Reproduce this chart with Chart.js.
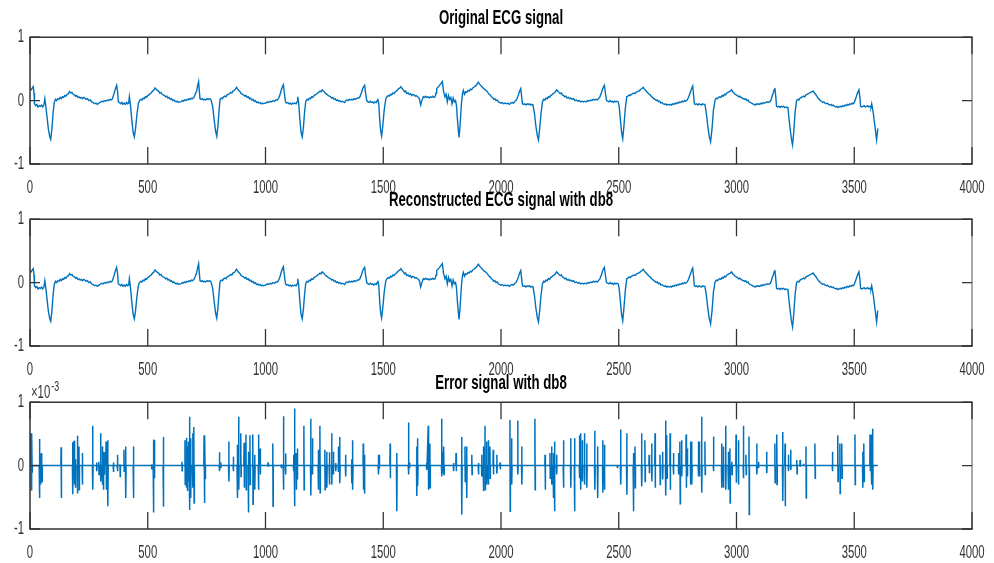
<!DOCTYPE html>
<html>
<head>
<meta charset="utf-8">
<script src="https://cdn.jsdelivr.net/npm/chart.js@4.4.1/dist/chart.umd.min.js"></script>
<style>
  html, body { margin:0; padding:0; background:#fff; width:994px; height:563px; overflow:hidden; }
  canvas { position:absolute; left:0; }
</style>
</head>
<body>
<canvas id="c1" width="994" height="200" style="top:0px"></canvas>
<canvas id="c2" width="994" height="200" style="top:182px"></canvas>
<canvas id="c3" width="994" height="200" style="top:365px"></canvas>
<script>
// ---------------- DATA ----------------
const panelTitles = ['Original ECG signal', 'Reconstructed ECG signal with db8', 'Error signal with db8'];
const xTickLabels = ['0','500','1000','1500','2000','2500','3000','3500','4000'];
const yTickLabels = ['-1','0','1'];
const errorExponentLabel = ['\u00d710', '-3'];

// ECG samples: [sample index, amplitude]
const ecgSamples = [
[0,.19],[5,.17],[10,.20],[14,.22],[17,.12],[19,-.05],[24,-.08],[29,-.06],[34,-.10],[39,-.08],[44,-.09],[49,-.07],[54,-.10],[59,-.07],[63,.03],[66,-.05],[72,-.25],[78,-.45],[84,-.57],[88,-.61],[93,-.45],[98,-.20],[103,-.03],[108,.02],[113,.00],[118,.03],[123,.02],[128,.05],[133,.03],[138,.06],[143,.05],[148,.08],[153,.07],[158,.10],[163,.11],[168,.14],[173,.12],[178,.13],[183,.10],[188,.09],[193,.07],[198,.08],[203,.05],[208,.06],[213,.04],[218,.05],[223,.03],[228,.05],[233,.04],[238,.02],[244,.03],[250,.00],[256,.01],[262,-.02],[268,-.03],[274,-.05],[280,-.04],[286,-.06],[292,-.04],[298,-.03],[304,-.01],[310,-.02],[316,.00],[322,-.01],[328,.01],[334,.00],[340,.02],[346,.01],[350,.03],[356,.10],[362,.18],[368,.24],[372,.14],[375,-.02],[380,-.03],[385,-.05],[390,-.03],[395,-.06],[400,-.04],[405,-.06],[410,-.03],[415,-.05],[419,-.04],[422,.06],[426,-.05],[432,-.30],[438,-.50],[443,-.57],[448,-.45],[454,-.22],[460,-.05],[465,.00],[470,.02],[475,.01],[480,.04],[485,.03],[490,.06],[495,.05],[500,.08],[505,.09],[510,.11],[515,.12],[520,.15],[525,.16],[531,.20],[536,.18],[541,.16],[546,.15],[551,.12],[556,.13],[561,.10],[566,.09],[571,.08],[576,.06],[581,.07],[586,.04],[591,.05],[596,.02],[601,.03],[606,.00],[611,.01],[616,-.01],[621,-.02],[626,-.01],[631,-.03],[636,-.02],[641,-.02],[646,.00],[651,-.01],[656,.01],[661,.00],[666,.02],[671,.01],[676,.03],[681,.02],[686,.04],[691,.03],[696,.05],[702,.10],[708,.16],[712,.24],[716,.30],[719,.15],[722,.03],[727,.02],[732,.03],[737,.01],[742,.02],[747,.01],[752,.03],[757,.02],[762,.03],[767,.02],[771,-.02],[776,-.10],[782,-.30],[788,-.48],[793,-.56],[798,-.40],[803,-.15],[807,.02],[812,.04],[817,.03],[822,.06],[827,.07],[832,.06],[837,.09],[842,.10],[847,.11],[852,.13],[857,.12],[862,.15],[867,.16],[872,.18],[877,.21],[882,.18],[887,.16],[892,.14],[897,.11],[902,.10],[907,.09],[912,.07],[917,.08],[922,.05],[927,.06],[932,.03],[937,.04],[942,.01],[947,.02],[952,-.01],[957,.00],[962,-.03],[967,-.02],[972,-.04],[977,-.03],[982,-.05],[987,-.04],[992,-.05],[997,-.04],[1002,-.04],[1008,-.02],[1014,-.03],[1020,-.01],[1026,-.02],[1032,.00],[1038,-.01],[1044,.01],[1050,.01],[1056,.04],[1062,.10],[1068,.18],[1072,.22],[1076,.25],[1080,.12],[1085,-.02],[1090,-.04],[1095,-.03],[1100,-.05],[1105,-.04],[1110,-.06],[1115,-.04],[1120,-.05],[1125,-.04],[1130,-.05],[1134,-.02],[1137,.06],[1141,-.05],[1146,-.30],[1151,-.50],[1156,-.57],[1161,-.42],[1166,-.18],[1171,-.01],[1176,.02],[1181,.01],[1186,.04],[1191,.03],[1196,.06],[1201,.05],[1206,.08],[1211,.09],[1216,.10],[1221,.12],[1226,.13],[1231,.15],[1236,.14],[1241,.17],[1246,.15],[1251,.13],[1256,.11],[1261,.10],[1266,.08],[1271,.07],[1276,.06],[1281,.04],[1286,.05],[1291,.02],[1296,.03],[1301,.00],[1306,.01],[1311,-.01],[1316,.00],[1321,-.02],[1326,-.01],[1331,-.02],[1336,-.03],[1341,.00],[1346,.01],[1351,.00],[1356,.02],[1361,.01],[1366,.02],[1371,.01],[1376,.03],[1381,.02],[1386,.03],[1391,.04],[1396,.04],[1401,.06],[1407,.12],[1413,.19],[1417,.22],[1421,.24],[1425,.12],[1430,.00],[1435,-.02],[1440,-.03],[1445,-.01],[1450,-.03],[1455,-.02],[1460,-.04],[1465,-.02],[1470,-.03],[1474,.00],[1477,.03],[1481,-.05],[1485,-.30],[1489,-.48],[1493,-.56],[1498,-.40],[1504,-.15],[1511,.03],[1516,.06],[1521,.08],[1526,.07],[1531,.10],[1536,.09],[1541,.12],[1546,.11],[1551,.14],[1556,.15],[1561,.17],[1566,.19],[1571,.20],[1575,.22],[1580,.19],[1585,.17],[1590,.14],[1595,.15],[1600,.11],[1605,.12],[1610,.10],[1615,.11],[1620,.08],[1625,.10],[1630,.09],[1635,.07],[1640,.08],[1645,.06],[1650,.05],[1654,.02],[1659,-.07],[1664,.00],[1670,.06],[1675,.05],[1680,.07],[1685,.05],[1690,.06],[1695,.04],[1700,.06],[1705,.05],[1710,.07],[1715,.05],[1720,.06],[1724,.12],[1727,.19],[1735,.22],[1743,.26],[1751,.30],[1756,.15],[1762,.06],[1767,.10],[1772,-.02],[1777,.08],[1782,.02],[1787,.05],[1792,-.05],[1797,.04],[1802,-.02],[1807,.00],[1811,-.08],[1815,-.30],[1819,-.48],[1822,-.58],[1826,-.40],[1832,-.05],[1836,.10],[1840,.16],[1845,.10],[1850,.14],[1855,.13],[1860,.16],[1865,.15],[1870,.18],[1875,.17],[1880,.20],[1885,.21],[1890,.23],[1895,.24],[1900,.27],[1904,.29],[1909,.26],[1914,.24],[1919,.22],[1924,.20],[1929,.18],[1934,.17],[1939,.15],[1944,.13],[1949,.10],[1954,.09],[1959,.06],[1964,.05],[1969,.02],[1974,.03],[1979,.00],[1984,.01],[1989,-.02],[1994,-.03],[1999,-.04],[2005,-.03],[2011,-.05],[2017,-.04],[2023,-.05],[2029,-.04],[2035,-.06],[2041,-.04],[2047,-.03],[2053,-.04],[2059,-.01],[2064,.00],[2069,.04],[2074,.09],[2079,.15],[2084,.19],[2088,.05],[2091,-.05],[2096,-.06],[2101,-.05],[2106,-.07],[2111,-.05],[2116,-.06],[2121,-.05],[2126,-.07],[2131,-.06],[2136,-.07],[2142,-.20],[2148,-.40],[2154,-.55],[2159,-.62],[2164,-.45],[2170,-.20],[2176,-.02],[2181,.02],[2186,.01],[2191,.04],[2196,.03],[2201,.06],[2206,.05],[2211,.08],[2216,.09],[2221,.11],[2226,.12],[2231,.14],[2236,.17],[2241,.15],[2246,.13],[2251,.11],[2256,.12],[2261,.09],[2266,.08],[2271,.06],[2276,.07],[2281,.04],[2286,.05],[2291,.03],[2296,.04],[2302,.02],[2308,.03],[2314,.00],[2320,.01],[2326,-.01],[2332,.00],[2338,-.02],[2344,-.01],[2350,-.02],[2356,-.01],[2362,-.02],[2368,.00],[2374,-.01],[2380,.01],[2386,.00],[2392,.02],[2398,.01],[2404,.02],[2410,.01],[2414,.03],[2420,.06],[2426,.12],[2432,.19],[2436,.22],[2439,.24],[2444,.10],[2448,.00],[2453,-.01],[2458,-.02],[2463,.00],[2468,-.02],[2473,-.01],[2478,-.03],[2483,-.01],[2488,-.02],[2493,-.01],[2498,-.02],[2502,-.10],[2507,-.30],[2512,-.50],[2517,-.60],[2522,-.40],[2528,-.12],[2534,.06],[2539,.07],[2544,.09],[2549,.08],[2554,.10],[2559,.11],[2564,.12],[2569,.11],[2574,.13],[2579,.14],[2584,.15],[2589,.16],[2594,.18],[2599,.19],[2604,.21],[2609,.18],[2614,.16],[2619,.14],[2624,.12],[2629,.10],[2634,.09],[2639,.06],[2644,.05],[2649,.03],[2654,.02],[2659,.00],[2664,.01],[2669,-.02],[2674,-.01],[2679,-.04],[2684,-.03],[2689,-.05],[2694,-.06],[2699,-.05],[2704,-.07],[2709,-.06],[2714,-.07],[2719,-.06],[2724,-.07],[2729,-.05],[2734,-.06],[2739,-.04],[2744,-.05],[2749,-.03],[2754,-.04],[2759,-.02],[2764,-.03],[2769,-.01],[2774,-.02],[2779,.00],[2784,-.01],[2789,.00],[2795,.04],[2801,.10],[2806,.15],[2810,.20],[2814,.23],[2818,.08],[2821,-.05],[2826,-.06],[2831,-.05],[2836,-.07],[2841,-.05],[2846,-.06],[2851,-.07],[2856,-.05],[2861,-.06],[2866,-.06],[2872,-.20],[2878,-.40],[2884,-.56],[2890,-.65],[2896,-.45],[2902,-.15],[2909,.01],[2914,.04],[2919,.03],[2924,.05],[2929,.06],[2934,.05],[2939,.08],[2944,.07],[2949,.10],[2954,.09],[2959,.12],[2964,.13],[2969,.14],[2974,.15],[2979,.17],[2984,.14],[2989,.12],[2994,.10],[2999,.09],[3004,.08],[3009,.06],[3014,.07],[3019,.05],[3024,.04],[3029,.03],[3034,.02],[3039,.03],[3044,.00],[3049,.01],[3054,-.02],[3059,-.03],[3064,-.04],[3069,-.05],[3074,-.06],[3079,-.07],[3084,-.05],[3089,-.06],[3094,-.05],[3099,-.06],[3104,-.04],[3109,-.05],[3114,-.03],[3119,-.04],[3124,-.03],[3129,-.02],[3134,-.03],[3139,-.02],[3144,-.01],[3148,.03],[3152,.08],[3156,.12],[3160,.17],[3163,.20],[3167,.05],[3170,-.09],[3175,-.10],[3180,-.09],[3185,-.11],[3190,-.09],[3195,-.10],[3200,-.09],[3205,-.11],[3210,-.10],[3215,-.11],[3218,-.10],[3222,-.25],[3228,-.45],[3233,-.60],[3238,-.70],[3243,-.50],[3249,-.18],[3255,.00],[3260,.02],[3265,.01],[3270,.04],[3275,.05],[3280,.06],[3285,.07],[3290,.06],[3295,.09],[3300,.10],[3305,.11],[3310,.12],[3315,.13],[3320,.14],[3326,.15],[3331,.12],[3336,.10],[3341,.07],[3346,.04],[3351,.02],[3356,.00],[3361,-.01],[3366,-.03],[3371,-.02],[3376,-.04],[3381,-.05],[3386,-.04],[3391,-.06],[3396,-.07],[3401,-.06],[3406,-.08],[3411,-.07],[3416,-.09],[3421,-.10],[3426,-.09],[3431,-.11],[3436,-.10],[3441,-.09],[3446,-.10],[3451,-.08],[3456,-.09],[3461,-.07],[3466,-.08],[3471,-.06],[3476,-.07],[3481,-.05],[3486,-.06],[3491,-.04],[3496,-.05],[3500,-.03],[3505,.02],[3510,.08],[3515,.13],[3520,.17],[3524,.05],[3527,-.09],[3532,-.10],[3537,-.09],[3542,-.08],[3547,-.10],[3552,-.09],[3557,-.08],[3562,-.10],[3567,-.09],[3571,-.10],[3574,-.05],[3581,-.20],[3588,-.41],[3595,-.62],[3600,-.44]
];
// Reconstruction with db8 is indistinguishable from the original at this scale
const reconstructedSamples = ecgSamples;

// Error signal (units of 1e-3): [sample index, spike high, spike low]; zero elsewhere
const errorSpikes = [
[4,.51,-.38],[8,.51,-.10],[40,.42,-.51],[45,.19,-.30],[50,.20,-.25],[132,.29,-.51],[181,.37,-.45],[187,.39,-.30],[192,.10,-.35],[201,.47,-.44],[208,.30,-.38],[222,.20,-.30],[266,.63,-.38],[283,.05,-.09],[292,.06,-.14],[300,.51,-.25],[307,.30,-.30],[311,.22,-.38],[315,.21,-.14],[323,.38,-.38],[330,.40,-.64],[354,.05,-.10],[371,.17,-.09],[382,.02,-.17],[399,.25,-.09],[406,.30,-.51],[439,.30,-.51],
[517,.02,-.06],[524,.41,-.74],[528,.40,-.20],[566,.45,-.65],[645,.06,-.08],[658,.40,-.30],[664,.44,-.35],[668,.30,-.40],[672,.38,-.25],[677,.77,-.70],[682,.43,-.51],[691,.51,-.35],[696,.61,-.59],[739,.48,-.59],[743,.48,-.20],[804,.21,-.09],[810,.05,-.04],[844,.38,-.25],[863,.14,-.09],[880,.33,-.51],[886,.77,-.38],[895,.51,-.17],[909,.36,-.35],[917,.49,-.38],[927,.22,-.74],[934,.48,-.30],[946,.49,-.61],[954,.17,-.38],[970,.49,-.38],[977,.27,-.14],
[1011,.05,-.02],[1031,.35,-.64],[1067,.02,-.04],[1076,.78,-.38],[1085,.19,-.14],[1119,.17,-.09],[1123,.90,-.64],[1130,.20,-.38],[1135,.27,-.22],[1163,.63,-.38],[1192,.74,-.47],[1199,.43,-.14],[1224,.25,-.38],[1231,.63,-.43],[1252,.25,-.38],[1260,.22,-.35],[1271,.21,-.30],[1281,.51,-.30],[1288,.22,-.14],[1298,.04,-.09],[1309,.30,-.10],[1315,.45,-.28],[1340,.17,-.17],[1366,.10,-.28],[1370,.40,-.38],[1415,.35,-.38],[1420,.17,-.44],[1479,.17,-.14],[1483,.17,-.05],
[1529,.35,-.20],[1557,.20,-.72],[1607,.68,-.14],[1611,.05,-.04],[1642,.30,-.48],[1646,.43,-.32],[1684,.04,-.07],[1691,.63,-.38],[1698,.35,-.35],[1748,.74,-.17],[1752,.22,-.12],[1757,.30,-.14],[1798,.04,-.09],[1809,.20,-.09],[1833,.45,-.77],[1847,.30,-.25],[1854,.30,-.51],[1876,.17,-.14],[1904,.04,-.14],[1918,.17,-.17],[1925,.30,-.40],[1932,.63,-.38],[1939,.38,-.30],[1946,.40,-.30],[1953,.30,-.20],[1967,.25,-.14],[1982,.17,-.13],[1996,.05,-.06],
[2038,.72,-.72],[2045,.43,-.30],[2071,.71,-.14],[2088,.30,-.30],[2144,.74,-.38],[2187,.17,-.38],[2208,.20,-.20],[2215,.30,-.30],[2222,.20,-.51],[2227,.38,-.72],[2236,.17,-.14],[2265,.40,-.35],[2296,.43,-.35],[2312,.43,-.72],[2333,.48,-.20],[2338,.51,-.38],[2345,.40,-.25],[2354,.51,-.30],[2364,.35,-.35],[2398,.55,-.38],[2410,.30,-.51],[2432,.40,-.43],[2439,.33,-.38],[2494,.01,-.04],
[2508,.57,-.30],[2534,.51,-.46],[2562,.20,-.72],[2569,.30,-.35],[2597,.51,-.33],[2611,.40,-.25],[2629,.17,-.12],[2640,.35,-.25],[2654,.51,-.35],[2675,.17,-.30],[2686,.22,-.22],[2699,.71,-.47],[2704,.48,-.20],[2718,.51,-.38],[2732,.20,-.14],[2754,.20,-.14],[2760,.38,-.60],[2767,.40,-.17],[2786,.49,-.35],[2791,.27,-.17],[2805,.38,-.30],[2810,.38,-.30],[2838,.38,-.17],[2842,.38,-.17],[2852,.77,-.43],[2866,.38,-.14],[2902,.46,-.09],[2937,.35,-.35],[2944,.30,-.35],[2954,.63,-.38],[2965,.22,-.38],[2972,.27,-.59],[2980,.06,-.14],[2998,.49,-.27],
[3008,.40,-.30],[3029,.63,-.20],[3040,.17,-.14],[3053,.46,-.77],[3086,.35,-.14],[3093,.06,-.04],[3128,.22,-.12],[3163,.35,-.27],[3171,.49,-.30],[3196,.53,-.56],[3206,.35,-.64],[3220,.17,-.09],[3230,.25,-.07],[3256,.09,-.13],[3270,.09,-.02],[3284,.03,.00],[3295,.30,-.51],[3333,.35,-.20],[3407,.22,-.09],[3430,.48,-.25],[3439,.35,-.44],[3447,.35,-.20],[3503,.49,-.30],[3536,.22,-.35],[3541,.35,-.25],[3567,.49,-.09],[3573,.49,-.30],[3578,.58,-.38]
];
const errorSignalEnd = 3600;

// ---------------- BUILD ----------------
const LINE_COLOR = '#0072BD';
const AXIS_COLOR = '#333333';
const SQUISH = 0.63;

function condenseText(ctx, k) {
  const orig = ctx.fillText;
  ctx.fillText = function (t, x, y, mw) {
    this.save();
    this.translate(x, y);
    this.scale(k, 1);
    if (mw === undefined || mw === null) orig.call(this, t, 0, 0);
    else orig.call(this, t, 0, 0, mw / k);
    this.restore();
  };
}

const boxPlugin = {
  id: 'matlabBox',
  afterDraw(chart, args, opts) {
    const ctx = chart.ctx;
    const { left, right, top, bottom } = chart.chartArea;
    const xs = chart.scales.x, ys = chart.scales.y;
    ctx.save();
    ctx.lineWidth = 1.5;
    ctx.lineCap = 'butt';
    ctx.strokeStyle = '#8c8c8c';
    ctx.beginPath(); ctx.moveTo(right, top); ctx.lineTo(right, bottom); ctx.stroke();
    ctx.strokeStyle = AXIS_COLOR;
    ctx.beginPath();
    ctx.moveTo(right + 0.75, top); ctx.lineTo(left, top); ctx.lineTo(left, bottom); ctx.lineTo(right + 0.75, bottom);
    ctx.stroke();
    ctx.lineWidth = 1.3;
    ctx.beginPath();
    xs.ticks.forEach(t => {
      const px = xs.getPixelForValue(t.value);
      ctx.moveTo(px, top); ctx.lineTo(px, top + 17);
      ctx.moveTo(px, bottom); ctx.lineTo(px, bottom - 17);
    });
    ys.ticks.forEach(t => {
      const py = ys.getPixelForValue(t.value);
      ctx.moveTo(left, py); ctx.lineTo(left + 10, py);
      ctx.moveTo(right, py); ctx.lineTo(right - 10, py);
    });
    ctx.stroke();
    if (opts && opts.exponent) {
      ctx.fillStyle = AXIS_COLOR;
      ctx.textAlign = 'left';
      ctx.textBaseline = 'alphabetic';
      ctx.font = "18px 'Liberation Sans', Arial, sans-serif";
      ctx.fillText(opts.exponent[0], left + 1, top - 4);
      const w = ctx.measureText(opts.exponent[0]).width * SQUISH;
      ctx.font = "14px 'Liberation Sans', Arial, sans-serif";
      ctx.fillText(opts.exponent[1], left + 2 + w, top - 11);
    }
    ctx.restore();
  }
};

function makePanel(id, title, points, exponent) {
  const canvas = document.getElementById(id);
  const ctx = canvas.getContext('2d');
  condenseText(ctx, SQUISH);
  const tickFont = { family: "'Liberation Sans', Arial, sans-serif", size: 18 };
  return new Chart(ctx, {
    type: 'line',
    data: { datasets: [{ data: points, borderColor: LINE_COLOR, borderWidth: exponent ? 1.5 : 1.4, pointRadius: 0, tension: 0, fill: false }] },
    options: {
      responsive: false, animation: false, devicePixelRatio: 1, parsing: false, normalized: true,
      layout: { padding: { left: 0, right: 22, top: 0, bottom: 0 } },
      plugins: {
        legend: { display: false }, tooltip: { enabled: false },
        title: { display: true, text: title, color: '#000', fullSize: false,
                 font: { family: "'Liberation Sans', Arial, sans-serif", size: 21, weight: 'bold', lineHeight: 1.2 },
                 padding: { top: 6, bottom: 6 } },
        matlabBox: { exponent: exponent || null }
      },
      scales: {
        x: { type: 'linear', min: 0, max: 4000,
             grid: { display: false, drawTicks: false }, border: { display: false },
             ticks: { stepSize: 500, autoSkip: false, maxRotation: 0, padding: 13, color: AXIS_COLOR, font: tickFont,
                      callback: (v, i) => xTickLabels[i] },
             afterFit: s => { s.height = 36; s.paddingLeft = 0; s.paddingRight = 0; } },
        y: { type: 'linear', min: -1, max: 1,
             grid: { display: false, drawTicks: false }, border: { display: false },
             ticks: { stepSize: 1, padding: 6, color: AXIS_COLOR, font: tickFont,
                      callback: (v, i) => yTickLabels[i] },
             afterFit: s => { s.width = 30; s.paddingTop = 0; s.paddingBottom = 0; } }
      }
    },
    plugins: [boxPlugin]
  });
}

const ecgPoints = ecgSamples.map(([x, y]) => ({ x, y }));
const recPoints = reconstructedSamples.map(([x, y]) => ({ x, y }));
const errPoints = [{ x: 0, y: 0 }];
errorSpikes.forEach(([x, hi, lo]) => {
  errPoints.push({ x: x - 1, y: 0 }, { x: x, y: hi }, { x: x + 1, y: lo }, { x: x + 2, y: 0 });
});
errPoints.push({ x: errorSignalEnd, y: 0 });

makePanel('c1', panelTitles[0], ecgPoints);
makePanel('c2', panelTitles[1], recPoints);
makePanel('c3', panelTitles[2], errPoints, errorExponentLabel);
</script>
</body>
</html>
